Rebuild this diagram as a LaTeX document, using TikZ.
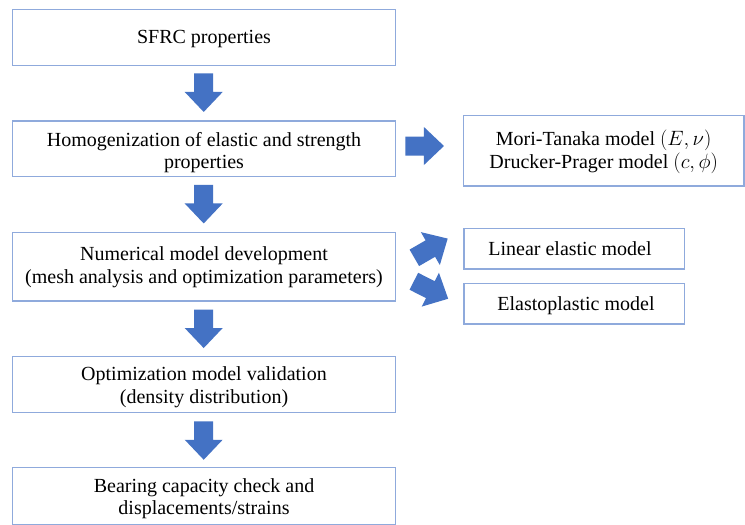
\documentclass[tikz,border=0pt]{standalone}
\usepackage{fontspec}
\setmainfont{Liberation Serif}
\definecolor{boxline}{RGB}{143,170,220}
\definecolor{arrowblue}{RGB}{68,114,196}
\begin{document}
\begin{tikzpicture}[x=1pt,y=-1pt,
  box/.style={draw=boxline,line width=1.2pt,fill=white,inner sep=0pt},
  txt/.style={align=center,inner sep=0pt,anchor=base,
    font=\fontsize{20}{22.4}\selectfont},
  blockarrow/.pic={\fill[arrowblue] (-19.25,-9.5) -- (-0.75,-9.5) -- (-0.75,-19) -- (19.25,0) -- (-0.75,19) -- (-0.75,9.5) -- (-19.25,9.5) -- cycle;}
]
\useasboundingbox (0,0) rectangle (745,525);
\fill[white] (0,0) rectangle (745,525);
% main column
\node[box,minimum width=383.4pt,minimum height=56pt] (sfrc) at (204,37.3) {};
\node[txt] (sfrcT) at (204,43.3) {SFRC properties};
\node[box,minimum width=383.4pt,minimum height=55.7pt] (homog) at (204,148.8) {};
\node[txt] (homogT) at (204,168.5) {Homogenization of elastic and strength\\properties};
\node[box,minimum width=383.4pt,minimum height=68.7pt] (numer) at (204,266.7) {};
\node[txt] (numerT) at (204,283.3) {Numerical model development\\(mesh analysis and optimization parameters)};
\node[box,minimum width=383.4pt,minimum height=56pt] (optim) at (204,384.7) {};
\node[txt] (optimT) at (204,403.3) {Optimization model validation\\(density distribution)};
\node[box,minimum width=383.4pt,minimum height=57pt] (bear) at (204,496) {};
\node[txt] (bearT) at (204,514.5) {Bearing capacity check and\\displacements/strains};
% right column
\node[box,minimum width=280.5pt,minimum height=70.3pt] (mori) at (603.7,150.8) {};
\node[txt] (moriT) at (603.7,168.3) {Mori-Tanaka model $(E,\nu)$\\Drucker-Prager model $(c,\phi)$};
\node[box,minimum width=220.3pt,minimum height=40.7pt] (linear) at (574.2,248.7) {};
\node[txt] (linearT) at (570,255) {Linear elastic model};
\node[box,minimum width=220.3pt,minimum height=40.7pt] (elasto) at (574.2,303.7) {};
\node[txt] (elastoT) at (576,310.7) {Elastoplastic model};
% block arrows
\pic[rotate=-90] at (203.7,92.7) {blockarrow};
\pic[rotate=-90] at (203.7,204.2) {blockarrow};
\pic[rotate=-90] at (203.7,328.8) {blockarrow};
\pic[rotate=-90] at (203.7,440.5) {blockarrow};
\pic at (424.7,146) {blockarrow};
\pic[rotate=30] at (431,248.2) {blockarrow};
\pic[rotate=-27] at (431,290) {blockarrow};
\end{tikzpicture}
\end{document}
